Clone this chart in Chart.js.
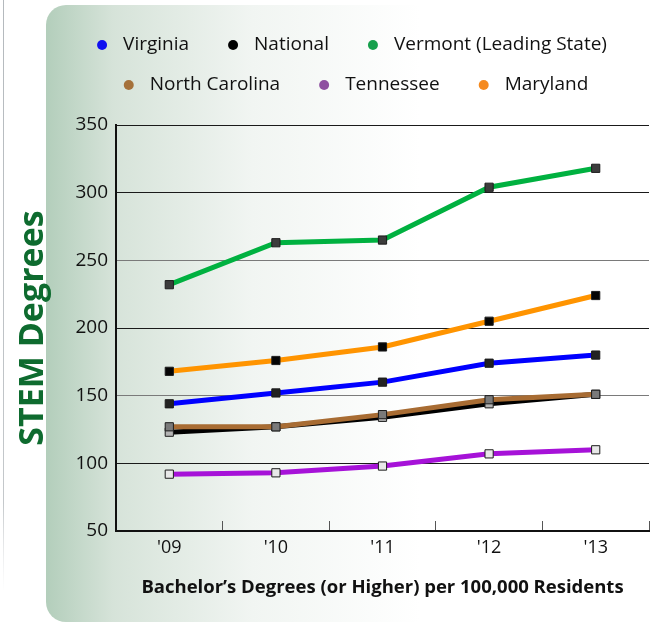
<!DOCTYPE html>
<html>
<head>
<meta charset="utf-8">
<title>STEM Degrees</title>
<script src="https://cdn.jsdelivr.net/npm/chart.js@4.4.1/dist/chart.umd.min.js"></script>
<style>
  html, body { margin: 0; padding: 0; background: #ffffff; }
  canvas { display: block; }
</style>
</head>
<body>
<canvas id="stemChart" width="656" height="623"></canvas>
<script>
// Years on the horizontal axis
const years = ["'09", "'10", "'11", "'12", "'13"];

// STEM degrees per 100,000 residents, by state
const virginia      = [144, 152, 160, 174, 180];
const national      = [123, 127, 134, 144, 151];
const vermont       = [232, 263, 265, 304, 318];
const northCarolina = [127, 127, 136, 147, 151];
const tennessee     = [92, 93, 98, 107, 110];
const maryland      = [168, 176, 186, 205, 224];

// Value axis ticks
const yTicks = [50, 100, 150, 200, 250, 300, 350];

const FONT = "'Open Sans', 'Noto Sans', sans-serif";
Chart.defaults.font.family = FONT;
Chart.defaults.color = '#111111';

function series(label, data, lineColor, markerFill, order) {
  return {
    label, data, order,
    borderColor: lineColor,
    backgroundColor: lineColor,
    borderWidth: 5,
    tension: 0,
    pointStyle: 'rect',
    pointRadius: 5.8,
    pointHoverRadius: 5.8,
    pointBackgroundColor: markerFill,
    pointBorderColor: '#1c1c1c',
    pointBorderWidth: 1
  };
}

// Rounded, green-to-white panel behind the whole chart
const panelBackground = {
  id: 'panelBackground',
  beforeDraw(chart, args, o) {
    const ctx = chart.ctx;
    const W = chart.width, H = chart.height;
    ctx.save();
    ctx.fillStyle = '#ffffff';
    ctx.fillRect(0, 0, W, H);

    // thin page rule on the far left
    const rule = ctx.createLinearGradient(0, 0, 0, o.ruleBottom);
    rule.addColorStop(0, '#b4b9bd');
    rule.addColorStop(0.85, '#c4c8cb');
    rule.addColorStop(1, 'rgba(220,222,224,0)');
    ctx.strokeStyle = rule;
    ctx.lineWidth = 1;
    ctx.beginPath();
    ctx.moveTo(o.ruleX, 0);
    ctx.lineTo(o.ruleX, o.ruleBottom);
    ctx.stroke();

    const g = ctx.createLinearGradient(o.left, 0, o.fadeTo, 0);
    g.addColorStop(0, '#b3cebb');
    g.addColorStop(0.18, '#d6e3d9');
    g.addColorStop(0.55, '#f1f5f2');
    g.addColorStop(1, '#ffffff');
    ctx.fillStyle = g;
    const l = o.left, t = o.top, r = W + 40, b = o.bottom, rad = o.radius;
    ctx.beginPath();
    ctx.moveTo(l + rad, t);
    ctx.lineTo(r, t);
    ctx.lineTo(r, b);
    ctx.lineTo(l + rad, b);
    ctx.arcTo(l, b, l, b - rad, rad);
    ctx.lineTo(l, t + rad);
    ctx.arcTo(l, t, l + rad, t, rad);
    ctx.closePath();
    ctx.fill();
    ctx.restore();
  }
};

// Two-row key with round swatches above the plot
const seriesKey = {
  id: 'seriesKey',
  afterDraw(chart, args, o) {
    const ctx = chart.ctx;
    ctx.save();
    ctx.font = o.font;
    ctx.textBaseline = 'middle';
    ctx.textAlign = 'left';
    const items = chart.data.datasets.map((ds, i) => ({
      label: ds.label,
      color: o.colors[i],
      w: o.dotGap + ctx.measureText(ds.label).width
    }));
    const rows = [];
    let row = [], rowW = 0;
    items.forEach(it => {
      const add = (row.length ? o.itemGap : 0) + o.dotRadius + it.w;
      if (row.length && rowW + add > o.maxWidth) {
        rows.push({ row, rowW });
        row = []; rowW = 0;
      }
      rowW += (row.length ? o.itemGap : 0) + o.dotRadius + it.w;
      row.push(it);
    });
    rows.push({ row, rowW });

    rows.forEach((r, ri) => {
      let x = o.centerX + ri * o.rowShift - r.rowW / 2;
      const y = o.top + ri * o.rowHeight;
      r.row.forEach((it, k) => {
        if (k) x += o.itemGap;
        const cx = x + o.dotRadius;
        ctx.fillStyle = it.color;
        ctx.beginPath();
        ctx.arc(cx, y, o.dotRadius, 0, Math.PI * 2);
        ctx.fill();
        ctx.fillStyle = o.textColor;
        ctx.fillText(it.label, cx + o.dotGap, y);
        x = cx + it.w;
      });
    });
    ctx.restore();
  }
};

new Chart(document.getElementById('stemChart'), {
  type: 'line',
  data: {
    labels: years,
    datasets: [
      series('Virginia', virginia, '#0000ff', '#222222', 1),
      series('National', national, '#000000', '#b4b4b4', 2),
      series('Vermont (Leading State)', vermont, '#00b140', '#3c3c3c', 1),
      series('North Carolina', northCarolina, '#a86c33', '#7a7a7a', 1),
      series('Tennessee', tennessee, '#a612d8', '#e8e8e8', 1),
      series('Maryland', maryland, '#ff9400', '#050505', 1)
    ]
  },
  plugins: [panelBackground, seriesKey],
  options: {
    responsive: false,
    animation: false,
    devicePixelRatio: 1,
    layout: { padding: { top: 125, left: 8, right: 7, bottom: 0 } },
    plugins: {
      legend: { display: false },
      tooltip: { enabled: false },
      panelBackground: { left: 46, top: 5, bottom: 622, radius: 20, fadeTo: 420, ruleX: 3.5, ruleBottom: 592 },
      seriesKey: {
        font: '19px ' + FONT,
        textColor: '#111111',
        colors: ['#1010f0', '#000000', '#16a04c', '#a5713a', '#8e50a0', '#f58a1f'],
        dotRadius: 5,
        dotGap: 21,
        itemGap: 39,
        maxWidth: 540,
        centerX: 352,
        rowShift: 4,
        top: 45,
        rowHeight: 40
      }
    },
    scales: {
      x: {
        type: 'category',
        offset: true,
        afterFit(scale) { scale.height = 92; },
        grid: {
          offset: true,
          drawOnChartArea: false,
          drawTicks: true,
          tickLength: -10,
          color: '#555555',
          lineWidth: 1
        },
        border: { display: true, color: '#111111', width: 2 },
        ticks: { padding: 16, font: { size: 18 }, color: '#111111' },
        title: {
          display: true,
          text: 'Bachelor\u2019s Degrees (or Higher) per 100,000 Residents',
          font: { size: 18.5, weight: 'bold' },
          color: '#111111',
          padding: { top: 0, bottom: 24 }
        }
      },
      y: {
        min: 50,
        max: 350,
        afterFit(scale) { scale.width = 108; },
        afterBuildTicks(scale) { scale.ticks = yTicks.map(v => ({ value: v })); },
        grid: {
          drawTicks: false,
          lineWidth: 1,
          color: c => (c.tick && (c.tick.value === 150 || c.tick.value === 250)) ? '#7a7a7a' : '#1a1a1a'
        },
        border: { display: true, color: '#111111', width: 2 },
        ticks: { padding: 8, font: { size: 19 }, color: '#111111' },
        title: {
          display: true,
          text: 'STEM Degrees',
          font: { size: 34, weight: 'bold' },
          color: '#0e6b2f',
          padding: { top: 5, bottom: 0 }
        }
      }
    }
  }
});
</script>
</body>
</html>
